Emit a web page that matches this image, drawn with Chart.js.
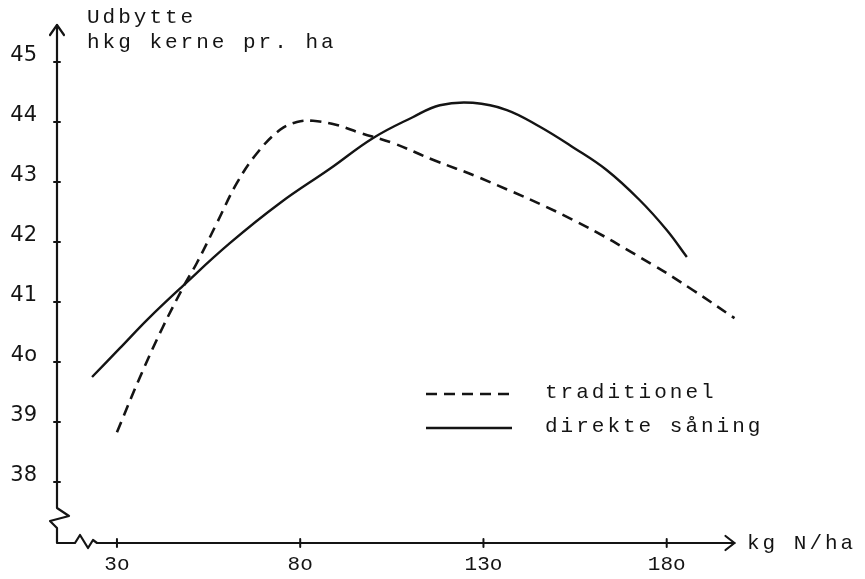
<!DOCTYPE html>
<html>
<head>
  <meta charset="utf-8">
  <title>Udbytte</title>
  <script src="https://cdn.jsdelivr.net/npm/chart.js"></script>
  <style>
    body {
      margin: 0;
      padding: 0;
      background-color: #ffffff;
    }
    #wrap {
      width: 865px;
      height: 579px;
    }
  </style>
</head>
<body>
  <div id="wrap">
    <canvas id="myChart" width="865" height="579"></canvas>
  </div>

  <script>
    // Kvælstof (kg N/ha) og udbytte (hkg kerne pr. ha)
    const tradN = [30, 36.3, 42.5, 48.8, 51.8, 57.3, 62.7, 68.2, 74.5, 79.1, 83.5, 90, 96.3, 105.3, 116.2, 129, 154.4, 176.2, 187.1, 198.5];
    const tradUdbytte = [38.83, 39.75, 40.58, 41.33, 41.65, 42.32, 42.98, 43.48, 43.87, 44.0, 44.02, 43.95, 43.82, 43.65, 43.37, 43.07, 42.37, 41.62, 41.2, 40.73];

    const direkteN = [23.2, 30.8, 38.5, 48, 60.8, 74.5, 88.1, 99.8, 110.7, 118.1, 127.1, 136.4, 145.4, 154.4, 163.6, 172.6, 180, 185.5];
    const direkteUdbytte = [39.75, 40.23, 40.72, 41.27, 41.98, 42.65, 43.22, 43.73, 44.08, 44.28, 44.32, 44.2, 43.92, 43.58, 43.2, 42.7, 42.2, 41.75];

    const xTicks = [30, 80, 130, 180];
    const xTickLabels = ['3o', '8o', '13o', '18o'];
    const yTicks = [38, 39, 40, 41, 42, 43, 44, 45];
    const yTickLabels = ['38', '39', '4o', '41', '42', '43', '44', '45'];

    const seriesNames = ['traditionel', 'direkte såning'];

    const ink = '#141414';
    const typeFont = '21px "Liberation Mono", monospace';

    const toPoints = (xs, ys) => xs.map((x, i) => ({ x: x, y: ys[i] }));

    // axes with arrows, broken-axis zigzags, tick crosses, titles and legend
    const paperPlugin = {
      id: 'paper',
      afterDraw(chart) {
        const ctx = chart.ctx;
        const xs = chart.scales.x;
        const ys = chart.scales.y;
        const x0 = xs.left;
        const y0 = ys.bottom;
        const top = ys.top;
        const xEnd = xs.getPixelForValue(198.5);

        ctx.save();
        ctx.strokeStyle = ink;
        ctx.lineWidth = 2.2;
        ctx.lineJoin = 'round';
        ctx.lineCap = 'round';

        // y axis with zigzag near the origin
        ctx.beginPath();
        ctx.moveTo(x0, top);
        ctx.lineTo(x0, y0 - 35);
        ctx.lineTo(x0 + 12, y0 - 27);
        ctx.lineTo(x0 - 7, y0 - 22);
        ctx.lineTo(x0, y0 - 15);
        ctx.lineTo(x0, y0);
        // x axis with zigzag
        ctx.lineTo(x0 + 18, y0);
        ctx.lineTo(x0 + 23, y0 - 8);
        ctx.lineTo(x0 + 31, y0 + 5);
        ctx.lineTo(x0 + 36, y0 - 3);
        ctx.lineTo(x0 + 40, y0);
        ctx.lineTo(xEnd, y0);
        ctx.stroke();

        // arrow heads
        ctx.beginPath();
        ctx.moveTo(x0 - 7, top + 10);
        ctx.lineTo(x0, top);
        ctx.lineTo(x0 + 7, top + 10);
        ctx.moveTo(xEnd - 9, y0 - 7);
        ctx.lineTo(xEnd, y0);
        ctx.lineTo(xEnd - 9, y0 + 7);
        ctx.stroke();

        // tick crosses
        ctx.lineWidth = 2;
        ctx.beginPath();
        ys.ticks.forEach(t => {
          const py = ys.getPixelForValue(t.value);
          ctx.moveTo(x0 - 3, py);
          ctx.lineTo(x0 + 3, py);
        });
        xs.ticks.forEach(t => {
          const px = xs.getPixelForValue(t.value);
          ctx.moveTo(px, y0 - 4);
          ctx.lineTo(px, y0 + 4);
        });
        ctx.stroke();

        // typed texts
        ctx.fillStyle = ink;
        ctx.font = typeFont;
        ctx.letterSpacing = '3px';
        ctx.textAlign = 'left';
        ctx.textBaseline = 'alphabetic';
        ctx.fillText('Udbytte', 87, 23);
        ctx.fillText('hkg kerne pr. ha', 87, 48);
        ctx.fillText('kg N/ha', 747, 549);

        // legend
        const legendRows = [{ y: 394, ds: chart.data.datasets[0] }, { y: 428, ds: chart.data.datasets[1] }];
        legendRows.forEach(row => {
          ctx.save();
          ctx.lineWidth = row.ds.borderWidth;
          ctx.setLineDash(row.ds.borderDash || []);
          ctx.lineCap = 'butt';
          ctx.beginPath();
          ctx.moveTo(426, row.y);
          ctx.lineTo(512, row.y);
          ctx.stroke();
          ctx.restore();
          ctx.fillText(row.ds.label, 545, row.y + 4);
        });
        ctx.restore();
      }
    };

    const ctx = document.getElementById('myChart').getContext('2d');
    const chart = new Chart(ctx, {
      type: 'line',
      data: {
        datasets: [{
          label: seriesNames[0],
          data: toPoints(tradN, tradUdbytte),
          borderColor: ink,
          borderWidth: 2.6,
          borderDash: [11, 7],
          tension: 0.4,
          pointRadius: 0,
          fill: false,
          clip: false
        }, {
          label: seriesNames[1],
          data: toPoints(direkteN, direkteUdbytte),
          borderColor: ink,
          borderWidth: 2.4,
          tension: 0.4,
          pointRadius: 0,
          fill: false,
          clip: false
        }]
      },
      options: {
        responsive: false,
        animation: false,
        layout: {
          padding: { top: 25, right: 125, left: 0, bottom: 0 }
        },
        scales: {
          x: {
            type: 'linear',
            min: 13.64,
            max: 200,
            afterBuildTicks: scale => {
              scale.ticks = xTicks.map(v => ({ value: v }));
            },
            afterFit: scale => {
              scale.height = 36;
              scale.paddingLeft = 0;
              scale.paddingRight = 0;
            },
            grid: { display: false, drawTicks: false },
            border: { display: false },
            ticks: {
              padding: 9,
              autoSkip: false,
              maxRotation: 0,
              color: ink,
              font: { family: '"Liberation Mono", monospace', size: 21 },
              callback: value => xTickLabels[xTicks.indexOf(value)]
            }
          },
          y: {
            min: 36.983,
            max: 45.617,
            afterBuildTicks: scale => {
              scale.ticks = yTicks.map(v => ({ value: v }));
            },
            afterFit: scale => {
              scale.width = 57;
              scale.paddingTop = 0;
              scale.paddingBottom = 0;
            },
            grid: { display: false, drawTicks: false },
            border: { display: false },
            ticks: {
              padding: 20,
              labelOffset: -6,
              autoSkip: false,
              color: ink,
              font: { family: '"DejaVu Sans", sans-serif', size: 21 },
              callback: value => yTickLabels[yTicks.indexOf(value)]
            }
          }
        },
        plugins: {
          legend: { display: false },
          tooltip: { enabled: false }
        }
      },
      plugins: [paperPlugin]
    });
  </script>
</body>
</html>
